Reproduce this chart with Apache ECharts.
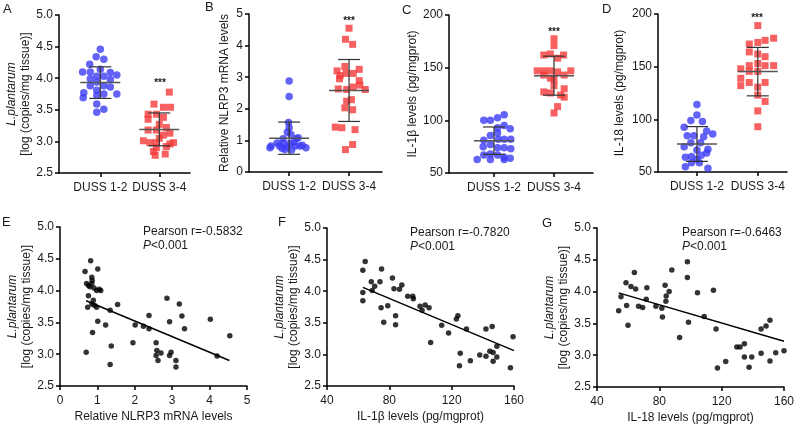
<!DOCTYPE html>
<html><head><meta charset="utf-8">
<script src="https://cdn.jsdelivr.net/npm/echarts@6/dist/echarts.min.js"></script>
<style>html,body{margin:0;padding:0;background:#fff}#c{width:800px;height:429px}</style>
</head><body><div id="c"></div>
<script>
const categories = ['DUSS 1-2', 'DUSS 3-4'];
// Panel A: L.plantarum log copies; [jitter, value]
const aBlue = [[0,4.46],[-0.07,4.34],[0.06,4.30],[-0.18,4.22],[0,4.14],[-0.3,4.10],[-0.17,4.10],[0.17,4.09],[0.28,4.05],[-0.06,4.03],[0.06,4.03],[-0.17,3.99],[0.17,3.98],[-0.06,3.94],[-0.17,3.88],[0.06,3.88],[0.17,3.86],[-0.06,3.81],[-0.28,3.77],[0.28,3.75],[0.06,3.75],[-0.06,3.73],[-0.29,3.69],[-0.06,3.59],[0.06,3.51],[-0.06,3.46]];
const aRed = [[0.17,3.78],[-0.09,3.59],[0.07,3.54],[0.19,3.54],[-0.19,3.43],[-0.05,3.43],[0.07,3.38],[-0.19,3.35],[0,3.27],[-0.19,3.18],[-0.05,3.18],[0.18,3.13],[0.07,3.10],[-0.27,3.01],[-0.16,2.98],[-0.05,2.98],[0.24,2.98],[0.18,2.96],[0.12,2.92],[-0.05,2.90],[-0.1,2.84],[0.1,2.80],[-0.07,2.78],[0.0,3.05],[0.12,3.22]];
const aMean = [3.93, 3.19];
const aSD = [0.25, 0.26];
// Panel B: NLRP3 mRNA
const bBlue = [[0,2.88],[0,2.39],[-0.01,1.57],[0,1.40],[-0.03,1.26],[0.03,1.19],[-0.1,1.05],[0.12,1.05],[0.15,1.08],[-0.2,0.92],[-0.1,0.90],[0.01,0.90],[-0.3,0.82],[-0.16,0.82],[-0.04,0.80],[0.1,0.82],[0.18,0.82],[-0.07,0.71],[0.04,0.70],[0.28,0.77],[-0.32,0.77],[0.08,0.95],[-0.12,0.75],[0.22,0.85]];
const bRed = [[0,4.55],[-0.06,4.20],[0.06,4.04],[-0.2,3.20],[-0.07,3.34],[0.07,3.12],[0.17,3.25],[-0.16,2.95],[-0.05,3.12],[0.17,2.89],[-0.18,2.63],[-0.04,2.61],[0.07,2.69],[0.27,2.61],[0.18,2.75],[0.04,2.29],[-0.04,2.24],[-0.07,2.03],[0.06,1.97],[-0.23,1.42],[-0.12,1.40],[0.1,1.34],[0.06,0.87],[-0.06,0.71],[-0.15,3.05]];
const bMean = [1.07, 2.58];
const bSD = [0.51, 0.98];
// Panel C: IL-1beta
const cBlue = [[0.17,105.4],[0.06,102.5],[-0.17,100],[-0.06,100],[0.17,95],[0.06,93],[0.27,92],[0.06,88],[-0.06,85.7],[-0.17,81],[0.07,82],[0.17,82],[0.28,82],[-0.06,77],[-0.18,75],[0.06,74],[0.17,74],[0.28,73],[-0.06,68],[-0.17,67],[0.06,67],[0.17,65],[0.27,64],[-0.28,62.7],[-0.06,62.7],[0.17,62.7]];
const cRed = [[0,177.5],[0,171],[-0.06,163],[-0.17,162],[0.16,162],[0.06,159],[-0.28,147],[-0.17,147],[0.28,147],[-0.06,147],[0.06,146],[-0.17,143],[0.17,143],[0,139],[0,133],[-0.17,127],[-0.06,126],[0.17,130],[0.17,122],[0.06,113],[0,107],[-0.06,140],[0.11,124]];
const cMean = [80.7, 142.4];
const cSD = [13, 18.5];
// Panel D: IL-18
const dBlue = [[0,114],[0,104],[-0.1,99],[0.09,98],[-0.21,92.6],[-0.16,84.4],[-0.05,84.4],[0.11,83.5],[0.26,86],[0.16,89],[0.06,77.8],[-0.1,77.8],[-0.21,74],[0.18,71.5],[0,71],[-0.19,64],[-0.09,64.6],[0,62],[0.07,66],[0.16,68],[-0.09,58.7],[0.04,58.7],[-0.19,55],[0.18,53.5]];
const dRed = [[0,189],[0.12,175],[0.26,177],[-0.14,171.5],[0,173],[-0.14,164],[0,162],[0.12,159.5],[0,153],[-0.14,151],[0.12,151],[0.26,151],[-0.28,148],[-0.14,145.5],[0,145.5],[-0.28,139],[-0.14,135],[0.12,135],[-0.28,132],[0,130.6],[0,123],[0.12,117],[0,108],[0,93]];
const dMean = [76.6, 145.3];
const dSD = [16.5, 23];
// Panel E: NLRP3 vs L.plantarum
const ePoints = [[0.67,4.30],[0.82,4.47],[1.01,4.34],[0.71,4.11],[0.76,4.08],[0.85,4.11],[0.85,4.21],[0.80,4.06],[0.86,4.16],[0.91,4.04],[0.98,4.00],[1.05,4.02],[1.09,4.00],[0.76,3.92],[0.89,3.85],[0.85,3.79],[0.74,3.74],[0.92,3.77],[0.98,3.74],[1.01,3.52],[0.87,3.34],[0.70,3.03],[1.34,3.69],[1.54,3.78],[1.22,3.46],[1.37,3.13],[1.34,2.84],[1.95,3.18],[2.01,3.46],[2.23,3.44],[2.38,3.61],[2.38,3.40],[2.86,3.88],[2.93,3.51],[2.57,3.18],[2.59,3.06],[2.57,2.98],[2.62,2.90],[2.70,3.02],[2.93,2.98],[2.97,3.03],[3.10,2.90],[3.10,2.80],[3.19,3.79],[3.26,3.60],[3.33,3.40],[4.02,3.55],[4.20,2.97],[4.54,3.29]];
const eFit = [[0.70,3.84],[4.53,2.90]];
// Panel F: IL-1beta vs L.plantarum
const fPoints = [[63,4.33],[64.5,4.47],[63,3.98],[63,3.85],[68.4,4.15],[70.6,4.08],[69,4.01],[74,4.15],[75,4.35],[74.7,3.74],[76.4,3.51],[79,3.77],[82,4.21],[83,4.04],[84,3.61],[84,3.47],[86.5,4.03],[88,4.10],[91.8,3.92],[95,3.92],[95.4,3.88],[99.7,3.76],[101,3.70],[103,3.78],[105.5,3.74],[106.5,3.19],[113.6,3.46],[118,3.34],[123,3.56],[124,3.61],[125.5,3.02],[125,2.82],[129.5,3.40],[132,2.90],[138,2.99],[142,3.40],[142,2.97],[144.5,3.05],[146,3.44],[146.6,3.03],[146.6,2.89],[149,3.13],[149,2.96],[157.7,2.79],[159.4,3.28]];
const fFit = [[63,4.06],[160,3.06]];
// Panel G: IL-18 vs L.plantarum
const gPoints = [[53.9,3.70],[55.4,3.92],[58.6,4.14],[59,3.78],[59.9,3.47],[61.8,4.08],[64,4.30],[64.8,4.04],[66.7,3.77],[69.3,3.75],[71.6,3.88],[72,4.06],[77.8,3.77],[81.6,3.74],[82,3.60],[83.7,4.10],[84.4,3.93],[84.2,3.85],[86.3,4.00],[88,4.34],[93,3.28],[98,4.47],[98,4.22],[98.7,3.52],[104.5,3.98],[108.8,3.61],[114.7,4.02],[116.4,3.41],[117.3,2.80],[122.6,2.90],[129.7,3.13],[131.8,3.13],[134.6,3.18],[134.6,2.97],[137.6,2.81],[139.3,2.97],[145.3,3.41],[145.3,3.03],[148.5,3.46],[151,3.55],[151,2.91],[154.7,3.04],[160,3.07]];
const gFit = [[53.9,3.98],[160,3.22]];
const pearson = ['Pearson r=-0.5832', 'Pearson r=-0.7820', 'Pearson r=-0.6463'];

const BLUE = '#3c3cf5', RED = '#f53a3a', TXT = '#1a1a1a', FONT = 'Liberation Sans, Arial, sans-serif';
const chart = echarts.init(document.getElementById('c'), null, {renderer:'canvas'});

const grids = [
  {left:59, top:15, width:131, height:158},
  {left:249, top:14, width:133, height:158},
  {left:449, top:15, width:144, height:158},
  {left:658, top:14, width:129, height:158},
  {left:60, top:227, width:187, height:159},
  {left:327, top:228, width:187, height:158},
  {left:597, top:228, width:187, height:159}
];
const axLine = {show:true, onZero:false, lineStyle:{color:'#000', width:1.5}};
const axTick = {show:true, inside:false, length:4, lineStyle:{color:'#000', width:1.5}};
const labStyle = {color:TXT, fontSize:12, fontFamily:FONT};
const lpName = '{i|L.plantarum}\n[log (copies/mg tissue)]';
const lpNameStyle = {color:TXT, fontSize:12, fontFamily:FONT, lineHeight:14, rich:{i:{fontStyle:'italic', fontSize:12, fontFamily:FONT, color:TXT}}};

function catX(idx, min, max) {
  return {type:'value', gridIndex:idx, min:min, max:max, axisLine:axLine,
    axisTick:Object.assign({}, axTick, {customValues:[0,1]}),
    axisLabel:Object.assign({}, labStyle, {customValues:[0,1], margin:9, formatter:v => categories[Math.round(v)]}),
    splitLine:{show:false}};
}
function valY(idx, min, max, interval, dec, name, gap, style) {
  return {type:'value', gridIndex:idx, min:min, max:max, interval:interval,
    axisLine:axLine, axisTick:axTick,
    axisLabel:Object.assign({}, labStyle, {margin:6, formatter:v => v.toFixed(dec)}),
    splitLine:{show:false}, name:name, nameLocation:'middle', nameRotate:90, nameGap:gap,
    nameTextStyle: style || Object.assign({}, labStyle)};
}
function valX(idx, min, max, interval, name) {
  return {type:'value', gridIndex:idx, min:min, max:max, interval:interval,
    axisLine:axLine, axisTick:axTick, axisLabel:Object.assign({}, labStyle, {margin:9}),
    splitLine:{show:false}, name:name, nameLocation:'middle', nameGap:25, nameTextStyle:Object.assign({}, labStyle)};
}

const xAxes = [
  catX(0, -0.7, 1.52), catX(1, -0.67, 1.55), catX(2, -0.75, 1.65), catX(3, -0.64, 1.48),
  valX(4, 0, 5, 1, 'Relative NLRP3 mRNA levels'),
  valX(5, 40, 160, 40, 'IL-1β levels (pg/mgprot)'),
  valX(6, 40, 160, 40, 'IL-18 levels (pg/mgprot)')
];
const yAxes = [
  valY(0, 2.5, 5, 0.5, 1, lpName, 25, lpNameStyle),
  valY(1, 0, 5, 1, 0, 'Relative NLRP3 mRNA levels', 18),
  valY(2, 50, 200, 50, 0, 'IL-1β levels (pg/mgprot)', 27),
  valY(3, 50, 200, 50, 0, 'IL-18 levels (pg/mgprot)', 32),
  valY(4, 2.5, 5, 0.5, 1, lpName, 22, lpNameStyle),
  valY(5, 2.5, 5, 0.5, 1, lpName, 23, lpNameStyle),
  valY(6, 2.5, 5, 0.5, 1, lpName, 21, lpNameStyle)
];

const series = [];
function groupPanel(idx, blue, red, mean, sd) {
  series.push({type:'scatter', xAxisIndex:idx, yAxisIndex:idx, symbol:'circle', symbolSize:7.5,
    itemStyle:{color:BLUE}, data: blue.map(p => [0 + p[0], p[1]]), z:2, silent:true});
  series.push({type:'scatter', xAxisIndex:idx, yAxisIndex:idx, symbol:'rect', symbolSize:7,
    itemStyle:{color:RED}, data: red.map(p => [1 + p[0], p[1]]), z:2, silent:true});
  series.push({type:'custom', xAxisIndex:idx, yAxisIndex:idx, z:5, silent:true,
    data: mean.map((m, i) => [i, m, sd[i]]),
    renderItem: function(params, api) {
      const x = api.value(0), m = api.value(1), s = api.value(2);
      const pm = api.coord([x, m]), pt = api.coord([x, m + s]), pb = api.coord([x, m - s]);
      return {type:'group', children:[
        {type:'line', shape:{x1:pt[0], y1:pt[1], x2:pb[0], y2:pb[1]}, style:{stroke:'#333', lineWidth:1.2}},
        {type:'line', shape:{x1:pt[0]-11, y1:pt[1], x2:pt[0]+11, y2:pt[1]}, style:{stroke:'#333', lineWidth:1.2}},
        {type:'line', shape:{x1:pb[0]-11, y1:pb[1], x2:pb[0]+11, y2:pb[1]}, style:{stroke:'#333', lineWidth:1.2}},
        {type:'line', shape:{x1:pm[0]-20, y1:pm[1], x2:pm[0]+20, y2:pm[1]}, style:{stroke:'#555', lineWidth:1.5}}
      ]};
    }});
}
groupPanel(0, aBlue, aRed, aMean, aSD);
groupPanel(1, bBlue, bRed, bMean, bSD);
groupPanel(2, cBlue, cRed, cMean, cSD);
groupPanel(3, dBlue, dRed, dMean, dSD);

function corrPanel(idx, pts, fit) {
  series.push({type:'scatter', xAxisIndex:idx, yAxisIndex:idx, symbol:'circle', symbolSize:5.5,
    itemStyle:{color:'#000'}, data:pts, silent:true});
  series.push({type:'line', xAxisIndex:idx, yAxisIndex:idx, data:fit, showSymbol:false, silent:true,
    lineStyle:{color:'#000', width:1.5}});
}
corrPanel(4, ePoints, eFit);
corrPanel(5, fPoints, fFit);
corrPanel(6, gPoints, gFit);

const graphic = [];
const letters = [['A',3,3],['B',205,1],['C',402,4],['D',602,3],['E',2,216],['F',278,216],['G',542,217]];
letters.forEach(l => graphic.push({type:'text', left:l[1], top:l[2], style:{text:l[0], font:'13px '+FONT, fill:TXT}}));
const stars = [[160,78],[349,16],[554,27],[757,13]];
stars.forEach(s => graphic.push({type:'text', x:s[0], y:s[1], style:{text:'***', font:'bold 10px '+FONT, fill:TXT, align:'center'}}));
const annPos = [[143,226],[410,227],[682,227]];
annPos.forEach((p, i) => {
  graphic.push({type:'text', x:p[0], y:p[1], style:{text:pearson[i], font:'12px '+FONT, fill:TXT}});
  graphic.push({type:'text', x:p[0], y:p[1]+14, style:{text:'{i|P}<0.001', font:'12px '+FONT, fill:TXT,
    rich:{i:{fontStyle:'italic', fontSize:12, fontFamily:FONT, fill:TXT}}}});
});

chart.setOption({
  animation:false,
  backgroundColor:'#fff',
  textStyle:{fontFamily:FONT},
  grid:grids, xAxis:xAxes, yAxis:yAxes, series:series, graphic:graphic
});
</script></body></html>
